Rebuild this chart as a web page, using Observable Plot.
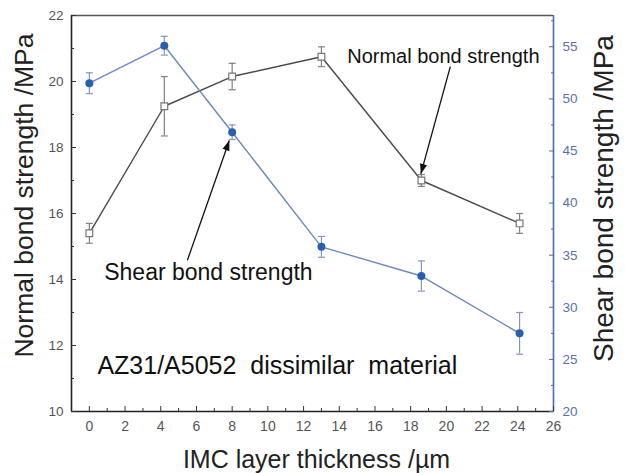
<!DOCTYPE html>
<html><head><meta charset="utf-8">
<script src="https://cdn.jsdelivr.net/npm/d3@7"></script>
<script src="https://cdn.jsdelivr.net/npm/@observablehq/plot@0.6"></script>
<style>
html,body{margin:0;padding:0;background:#fff;}
svg text{white-space:pre;}
</style></head><body><div id="chart"></div>
<script>
// ---- data ----
const thickness = [0, 4.2, 8, 13, 18.6, 24.1];
const normalStrength = [15.4, 19.25, 20.15, 20.75, 17.0, 15.7];
const normalErr = [0.3, 0.9, 0.4, 0.3, 0.18, 0.3];
const shearStrength = [51.5, 55.1, 46.8, 35.8, 33.0, 27.5];
const shearErr = [1.0, 0.9, 0.7, 1.0, 1.45, 2.0];

const xDomain = [-1, 26];
const leftDomain = [10, 22];
const rightDomain = [20, 58];
const xTicks = d3.range(0, 27, 2);
const xMinor = d3.range(1, 26, 2);
const leftTicks = d3.range(10, 23, 2);
const leftMinor = d3.range(11, 22, 2);
const rightTicks = d3.range(20, 56, 5);
const rightMinor = d3.range(22.5, 58, 5);

const annotations = [
  {text: "Normal bond strength", x: 19.83, y: 20.76, size: 20, anchor: "middle"},
  {text: "Shear bond strength", x: 6.67, y: 14.21, size: 23, anchor: "middle"},
  {text: "AZ31/A5052  dissimilar  material", x: 0.45, y: 11.39, size: 25, anchor: "start"}
];
const arrows = [
  {x1: 20.22, y1: 20.45, x2: 18.57, y2: 17.2},
  {x1: 5.49, y1: 14.58, x2: 7.84, y2: 18.21}
];

// ---- layout ----
const W = 625, H = 473, mL = 71, mR = 72, mT = 15, mB = 62;

// ---- helpers ----
const toLeft = d3.scaleLinear().domain(rightDomain).range(leftDomain);
const normalData = thickness.map((x, i) => ({x, y: normalStrength[i], lo: normalStrength[i] - normalErr[i], hi: normalStrength[i] + normalErr[i]}));
const shearData = thickness.map((x, i) => ({x, y: toLeft(shearStrength[i]), lo: toLeft(shearStrength[i] - shearErr[i]), hi: toLeft(shearStrength[i] + shearErr[i])}));
const cap = {draw(ctx, size) { const w = Math.sqrt(size / Math.PI); ctx.moveTo(-w, 0); ctx.lineTo(w, 0); }};
const head = {draw(ctx) { ctx.moveTo(0, 0); ctx.lineTo(-3.6, 10); ctx.lineTo(3.6, 10); ctx.closePath(); }};
const px = d3.scaleLinear(xDomain, [mL, W - mR]);
const py = d3.scaleLinear(leftDomain, [H - mB, mT]);
const arrowData = arrows.map(a => ({...a, angle: Math.atan2(px(a.x2) - px(a.x1), -(py(a.y2) - py(a.y1))) * 180 / Math.PI}));

const blue = "#4a6cb0";
const blueText = "#5a72a6";
const normalLine = "#4a4a4a";
const normalErrC = "#808080";
const shearLine = "#6f88bb";
const shearErrC = "#8496c0";
const dotBlue = "#2a5fb0";

const chart = Plot.plot({
  width: W, height: H,
  marginLeft: mL, marginRight: mR, marginTop: mT, marginBottom: mB,
  style: {fontFamily: "'Liberation Sans', Arial, sans-serif", background: "#fff"},
  x: {domain: xDomain},
  y: {domain: leftDomain},
  marks: [
    // frame
    Plot.ruleY([leftDomain[1]], {stroke: "#555", strokeWidth: 1.6}),
    Plot.ruleY([leftDomain[0]], {stroke: "#222", strokeWidth: 1.6}),
    Plot.ruleX([xDomain[0]], {stroke: "#222", strokeWidth: 1.6}),
    Plot.ruleX([xDomain[1]], {stroke: blue, strokeWidth: 1.6}),
    // x axis
    Plot.axisX(xTicks, {anchor: "bottom", tickSize: -5, fill: "none", stroke: "#333", label: null}),
    Plot.axisX(xMinor, {anchor: "bottom", tickSize: -3, fill: "none", stroke: "#333", label: null}),
    Plot.axisX(xTicks, {anchor: "bottom", tickSize: 0, tickPadding: 10, fill: "#555", fontSize: 14, label: null}),
    // left axis
    Plot.axisY(leftTicks, {anchor: "left", tickSize: -5, fill: "none", stroke: "#333", label: null}),
    Plot.axisY(leftMinor, {anchor: "left", tickSize: -3, fill: "none", stroke: "#333", label: null}),
    Plot.axisY(leftTicks, {anchor: "left", tickSize: 0, tickPadding: 8, fill: "#555", fontSize: 13.5, label: null}),
    // right axis
    Plot.axisY(rightTicks.map(toLeft), {anchor: "right", tickSize: -5, fill: "none", stroke: blue, label: null}),
    Plot.axisY(rightMinor.map(toLeft), {anchor: "right", tickSize: -3, fill: "none", stroke: blue, label: null}),
    Plot.axisY(rightTicks.map(toLeft), {anchor: "right", tickSize: 0, tickPadding: 9, fill: blueText, fontSize: 13.5, label: null, tickFormat: d => Math.round(toLeft.invert(d))}),
    // axis titles
    Plot.text(["IMC layer thickness /µm"], {frameAnchor: "bottom", dy: 48, dx: 4, textAnchor: "middle", lineAnchor: "middle", fontSize: 25, fill: "#222"}),
    Plot.text(["Normal bond strength /MPa"], {frameAnchor: "left", dx: -47, dy: -18, rotate: -90, textAnchor: "middle", lineAnchor: "middle", fontSize: 26.5, fill: "#222"}),
    Plot.text(["Shear bond strength /MPa"], {frameAnchor: "right", dx: 51, dy: -15, rotate: -90, textAnchor: "middle", lineAnchor: "middle", fontSize: 28, fill: "#222"}),
    // normal series
    Plot.line(normalData, {x: "x", y: "y", stroke: normalLine, strokeWidth: 1.4}),
    Plot.ruleX(normalData, {x: "x", y1: "lo", y2: "hi", stroke: normalErrC, strokeWidth: 1.2}),
    Plot.dot(normalData, {x: "x", y: "lo", symbol: cap, r: 3.5, stroke: normalErrC, strokeWidth: 1.2}),
    Plot.dot(normalData, {x: "x", y: "hi", symbol: cap, r: 3.5, stroke: normalErrC, strokeWidth: 1.2}),
    Plot.dot(normalData, {x: "x", y: "y", symbol: "square", r: 3.8, fill: "#fff", stroke: "#777", strokeWidth: 1.2}),
    // shear series
    Plot.line(shearData, {x: "x", y: "y", stroke: shearLine, strokeWidth: 1.4}),
    Plot.ruleX(shearData, {x: "x", y1: "lo", y2: "hi", stroke: shearErrC, strokeWidth: 1.2}),
    Plot.dot(shearData, {x: "x", y: "lo", symbol: cap, r: 3.5, stroke: shearErrC, strokeWidth: 1.2}),
    Plot.dot(shearData, {x: "x", y: "hi", symbol: cap, r: 3.5, stroke: shearErrC, strokeWidth: 1.2}),
    Plot.dot(shearData, {x: "x", y: "y", r: 4, fill: dotBlue, stroke: "none"}),
    // annotations
    Plot.link(arrowData, {x1: "x1", y1: "y1", x2: "x2", y2: "y2", stroke: "#111", strokeWidth: 1.3}),
    Plot.dot(arrowData, {x: "x2", y: "y2", symbol: head, rotate: "angle", fill: "#111", stroke: "none", r: 4}),
    Plot.text(annotations.filter(d => d.anchor === "middle"), {x: "x", y: "y", text: "text", fontSize: "size", textAnchor: "middle", fill: "#111"}),
    Plot.text(annotations.filter(d => d.anchor === "start"), {x: "x", y: "y", text: "text", fontSize: "size", textAnchor: "start", fill: "#111"})
  ]
});
document.getElementById("chart").appendChild(chart);
</script></body></html>
